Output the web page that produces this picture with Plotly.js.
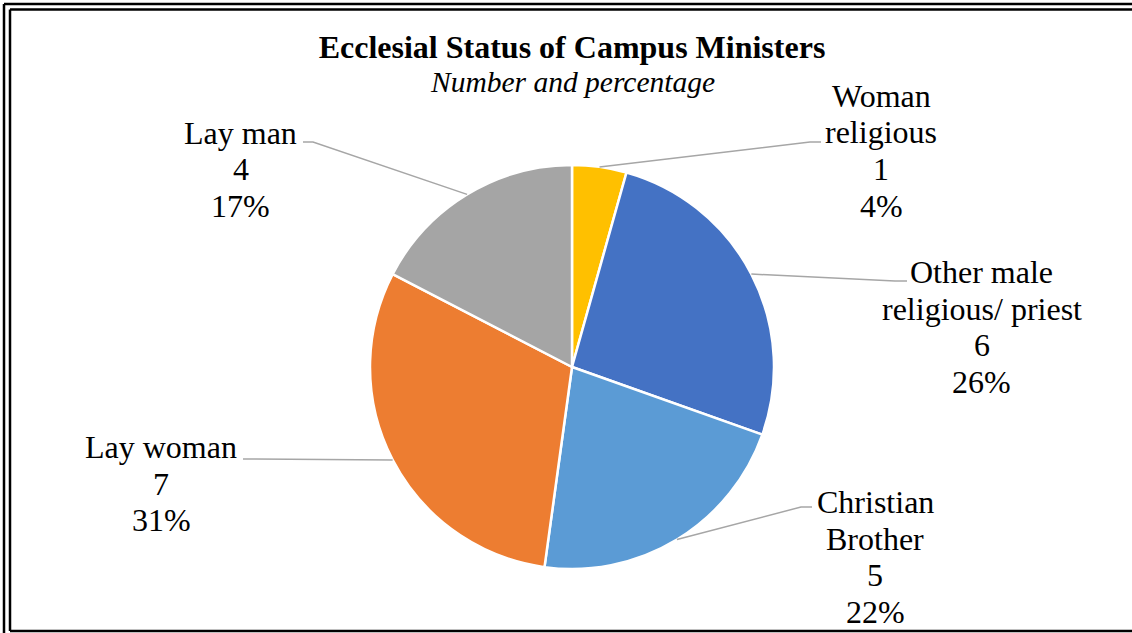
<!DOCTYPE html>
<html>
<head>
<meta charset="utf-8">
<script src="https://cdn.plot.ly/plotly-3.0.1.min.js"></script>
<style>
html,body{margin:0;padding:0;background:#fff;}
#chart{width:1132px;height:633px;}
</style>
</head>
<body>
<div id="chart"></div>
<script>
// ---- data ----
const categories = ['Woman religious', 'Other male religious/ priest', 'Christian Brother', 'Lay woman', 'Lay man'];
const labelLines = [['Woman', 'religious'], ['Other male', 'religious/ priest'], ['Christian', 'Brother'], ['Lay woman'], ['Lay man']];
const counts = [1, 6, 5, 7, 4];
const percentLabels = ['4%', '26%', '22%', '31%', '17%'];
const colors = ['#FFC000', '#4472C4', '#5B9BD5', '#ED7D31', '#A5A5A5'];

// ---- layout geometry (pixels) ----
const W = 1132, H = 633;
const CX = 572, CY = 367, R = 202;
const FONT = '"Times New Roman", "Liberation Serif", Tinos, "DejaVu Serif", serif';
// label placement: centre x, y of first line, elbow & end of leader line
const labelPos = [
  {x: 881, y: 96,  elbow: [810, 142], end: [821, 142]},
  {x: 982, y: 272, elbow: [895, 281], end: [907, 281]},
  {x: 875, y: 502, elbow: [801, 507], end: [812, 507]},
  {x: 161, y: 447, elbow: [255, 459], end: [243, 459]},
  {x: 241, y: 133, elbow: [313, 142], end: [303, 142]}
];
const LINE_H = 36.5;
const px = v => v / W;
const py = v => 1 - v / H;

const total = counts.reduce((a, b) => a + b, 0);
const annotations = [];
const shapes = [];
let cum = 0;
counts.forEach((c, i) => {
  const mid = (cum + c / 2) / total * 2 * Math.PI;
  cum += c;
  const ax = CX + R * Math.sin(mid);
  const ay = CY - R * Math.cos(mid);
  const p = labelPos[i];
  shapes.push({
    type: 'path', xref: 'paper', yref: 'paper',
    path: `M ${px(ax)} ${py(ay)} L ${px(p.elbow[0])} ${py(p.elbow[1])} L ${px(p.end[0])} ${py(p.end[1])}`,
    line: {color: '#A6A6A6', width: 1.5}
  });
  const lines = labelLines[i].concat([String(c), percentLabels[i]]);
  lines.forEach((t, k) => {
    annotations.push({
      xref: 'paper', yref: 'paper', x: px(p.x), y: py(p.y + k * LINE_H),
      xanchor: 'center', yanchor: 'middle', showarrow: false, text: t,
      font: {family: FONT, size: 32, color: '#000'}
    });
  });
});

// subtitle
annotations.push({
  xref: 'paper', yref: 'paper', x: px(572), y: py(82), xanchor: 'center', yanchor: 'middle',
  showarrow: false, text: '<i>Number and percentage</i>',
  font: {family: FONT, size: 29.5, color: '#000'}
});

// double frame
const frame = {color: '#000', width: 2.5};
shapes.push({type: 'line', xref: 'paper', yref: 'paper', x0: px(4), x1: px(4), y0: py(4), y1: py(640), line: frame});
shapes.push({type: 'line', xref: 'paper', yref: 'paper', x0: px(4), x1: px(1140), y0: py(4), y1: py(4), line: frame});
shapes.push({type: 'line', xref: 'paper', yref: 'paper', x0: px(10), x1: px(10), y0: py(9.5), y1: py(631), line: frame});
shapes.push({type: 'line', xref: 'paper', yref: 'paper', x0: px(10), x1: px(1140), y0: py(9.5), y1: py(9.5), line: frame});
shapes.push({type: 'line', xref: 'paper', yref: 'paper', x0: px(10), x1: px(1140), y0: py(631), y1: py(631), line: frame});

const trace = {
  type: 'pie',
  labels: categories,
  values: counts,
  sort: false,
  direction: 'clockwise',
  rotation: 0,
  textinfo: 'none',
  hoverinfo: 'label+value+percent',
  marker: {colors: colors, line: {color: '#FFFFFF', width: 2.5}},
  domain: {x: [px(CX - R), px(CX + R)], y: [py(CY + R), py(CY - R)]},
  showlegend: false
};

const layout = {
  width: W, height: H,
  margin: {l: 0, r: 0, t: 0, b: 0},
  paper_bgcolor: '#FFFFFF',
  font: {family: FONT},
  title: {
    text: '<b>Ecclesial Status of Campus Ministers</b>',
    font: {family: FONT, size: 32, color: '#000'},
    x: px(572), xanchor: 'center', xref: 'paper',
    y: py(47), yanchor: 'middle', yref: 'paper'
  },
  showlegend: false,
  annotations: annotations,
  shapes: shapes
};

Plotly.newPlot('chart', [trace], layout, {displayModeBar: false, staticPlot: true});
</script>
</body>
</html>
